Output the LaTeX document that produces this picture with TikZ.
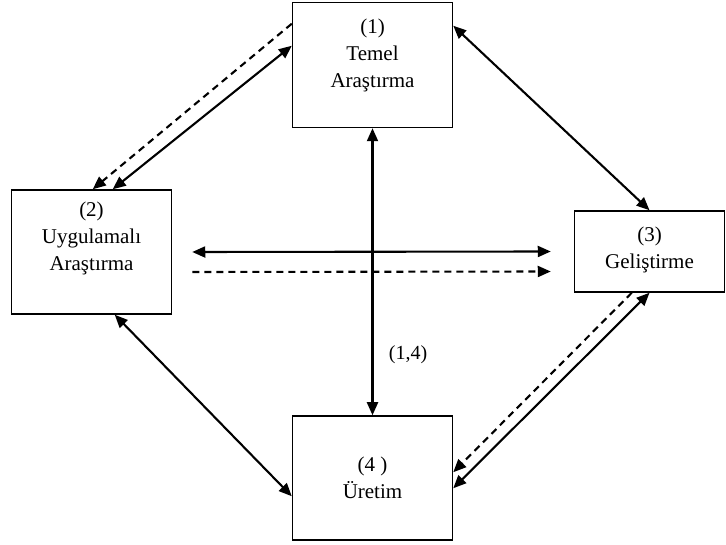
\documentclass[tikz,border=0pt]{standalone}
\usepackage{fontspec}
\setmainfont{Liberation Serif}
\usetikzlibrary{arrows.meta, calc}

\begin{document}
\begin{tikzpicture}[
  x=1pt, y=-1pt,
  >={Triangle[length=13pt, width=11pt]},
  box/.style={draw, line width=1.5pt, inner sep=0pt, minimum width=160pt},
  boxtext/.style={align=center, font=\fontsize{21}{27}\selectfont},
  link/.style={line width=2.1pt},
  dlink/.style={line width=2.1pt, dash pattern=on 7pt off 5pt}
]
\useasboundingbox (0,0) rectangle (726,545);

% boxes
\node[box, minimum height=125pt] (temel) at (372.5,65) {};
\node[box, minimum height=124pt] (uygulamali) at (91.5,252) {};
\node[box, minimum width=150pt, minimum height=81pt] (gelistirme) at (649.5,251.5) {};
\node[box, minimum height=124pt] (uretim) at (372.5,478) {};

% box texts
\node[boxtext] (temel-txt) at ($(temel.center)+(0,-10)$) {(1)\\Temel\\Araştırma};
\node[boxtext] (uygulamali-txt) at ($(uygulamali.center)+(0,-14)$) {(2)\\Uygulamalı\\Araştırma};
\node[boxtext] (gelistirme-txt) at ($(gelistirme.center)+(0,-2)$) {(3)\\Geliştirme};
\node[boxtext] (uretim-txt) at (uretim.center) {(4 )\\Üretim};

% connectors
\draw[link, <->] ($(temel.north west)+(0,44)$) -- ($(uygulamali.north west)+(102,0)$);
\draw[dlink, ->] ($(temel.north west)+(0,22)$) -- ($(uygulamali.north west)+(82,0)$);
\draw[link, <->] ($(temel.north east)+(0,24)$) -- (gelistirme.north);
\draw[link, <->] (gelistirme.south) -- ($(uretim.north east)+(0,73)$);
\draw[dlink, ->] ($(gelistirme.south west)+(58,0)$) -- ($(uretim.north east)+(0,57)$);
\draw[link, <->] ($(uygulamali.south west)+(104,0)$) -- ($(uretim.north west)+(0,81)$);
\draw[link, <->] ($(uygulamali.east)+(20,0)$) -- ($(gelistirme.west)+(-23,0)$);
\draw[dlink, ->] ($(uygulamali.east)+(20,20)$) -- ($(gelistirme.west)+(-23,20)$);
\draw[link, <->] (temel.south) -- (uretim.north)
  node[pos=0.79, right, xshift=12pt, font=\fontsize{20}{24}\selectfont] (kesisim) {(1,4)};
\end{tikzpicture}
\end{document}
